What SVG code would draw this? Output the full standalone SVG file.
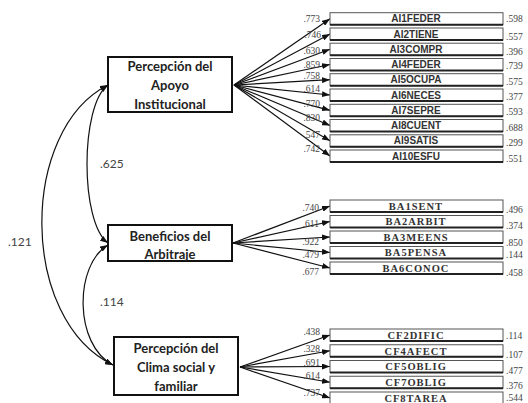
<svg xmlns="http://www.w3.org/2000/svg" width="528" height="403" viewBox="0 0 528 403">
<defs>
<marker id="ah" viewBox="0 0 8 6" refX="8" refY="3" markerWidth="8" markerHeight="6" markerUnits="userSpaceOnUse" orient="auto-start-reverse"><path d="M0,0 L8,3 L0,6 z" fill="#111"/></marker>
</defs>
<style>
.lat rect{fill:#fff;stroke:#111;stroke-width:2}
.lat text{font-family:Lato,"Liberation Sans",sans-serif;font-weight:700;font-size:13px;fill:#222;text-anchor:middle}
.ind rect{fill:#fff;stroke:#555;stroke-width:1}
.ind line{stroke:#222;stroke-width:2}
.ai{font-family:"Liberation Sans",sans-serif;font-weight:700;font-size:10px;fill:#333;text-anchor:middle}
.ser{font-family:"Liberation Serif",serif;font-weight:700;font-size:10.5px;letter-spacing:1px;fill:#333;text-anchor:middle}
.ld{font-family:"Liberation Serif",serif;font-size:9.5px;fill:#444;text-anchor:end}
.rv{font-family:"Liberation Serif",serif;font-size:9.5px;fill:#444}
.cv{font-family:Lato,"Liberation Sans",sans-serif;font-size:12px;fill:#444}
.con path,.con line{fill:none;stroke:#111;stroke-width:1.2}
</style>
<rect width="528" height="403" fill="#fff"/>
<g id="connectors" class="con">
<path d="M108,85 C80,105 80,223 108,243" marker-start="url(#ah)" marker-end="url(#ah)"/>
<path d="M108,85 C19,130 19,320 113,365" marker-start="url(#ah)" marker-end="url(#ah)"/>
<path d="M108,245 C74,265 74,345 113,365" marker-start="url(#ah)" marker-end="url(#ah)"/>
<line x1="234" y1="85" x2="330" y2="18.7" marker-end="url(#ah)"/>
<line x1="234" y1="85" x2="330" y2="34" marker-end="url(#ah)"/>
<line x1="234" y1="85" x2="330" y2="49.2" marker-end="url(#ah)"/>
<line x1="234" y1="85" x2="330" y2="64.5" marker-end="url(#ah)"/>
<line x1="234" y1="85" x2="330" y2="79.7" marker-end="url(#ah)"/>
<line x1="234" y1="85" x2="330" y2="95" marker-end="url(#ah)"/>
<line x1="234" y1="85" x2="330" y2="110.3" marker-end="url(#ah)"/>
<line x1="234" y1="85" x2="330" y2="125.5" marker-end="url(#ah)"/>
<line x1="234" y1="85" x2="330" y2="140.8" marker-end="url(#ah)"/>
<line x1="234" y1="85" x2="330" y2="156" marker-end="url(#ah)"/>
<line x1="233" y1="243" x2="330" y2="206" marker-end="url(#ah)"/>
<line x1="233" y1="243" x2="330" y2="221.5" marker-end="url(#ah)"/>
<line x1="233" y1="243" x2="330" y2="237" marker-end="url(#ah)"/>
<line x1="233" y1="243" x2="330" y2="252.5" marker-end="url(#ah)"/>
<line x1="233" y1="243" x2="330" y2="268" marker-end="url(#ah)"/>
<line x1="240" y1="367" x2="330" y2="335" marker-end="url(#ah)"/>
<line x1="240" y1="367" x2="330" y2="350.75" marker-end="url(#ah)"/>
<line x1="240" y1="367" x2="330" y2="366.5" marker-end="url(#ah)"/>
<line x1="240" y1="367" x2="330" y2="382.25" marker-end="url(#ah)"/>
<line x1="240" y1="367" x2="330" y2="398" marker-end="url(#ah)"/>
</g>
<g id="labels">
<text class="cv" x="100" y="168">.625</text>
<text class="cv" x="8" y="246">.121</text>
<text class="cv" x="100" y="306">.114</text>
<text class="ld" x="320" y="22">.773</text>
<text class="ld" x="321" y="38">.746</text>
<text class="ld" x="320" y="54">.630</text>
<text class="ld" x="320" y="68">.859</text>
<text class="ld" x="320" y="79">.758</text>
<text class="ld" x="320" y="92">.614</text>
<text class="ld" x="320" y="107">.770</text>
<text class="ld" x="320" y="121">.830</text>
<text class="ld" x="320" y="138">.547</text>
<text class="ld" x="320" y="152">.742</text>
<text class="ld" x="319" y="211">.740</text>
<text class="ld" x="319" y="227">.611</text>
<text class="ld" x="319" y="245">.922</text>
<text class="ld" x="319" y="258">.479</text>
<text class="ld" x="319" y="275">.677</text>
<text class="ld" x="320" y="335">.438</text>
<text class="ld" x="320" y="352">.328</text>
<text class="ld" x="320" y="366">.691</text>
<text class="ld" x="320" y="379">.614</text>
<text class="ld" x="320" y="396">.737</text>
<text class="rv" x="506" y="22">.598</text>
<text class="rv" x="506" y="40">.557</text>
<text class="rv" x="506" y="55">.396</text>
<text class="rv" x="506" y="69">.739</text>
<text class="rv" x="506" y="85">.575</text>
<text class="rv" x="506" y="100">.377</text>
<text class="rv" x="506" y="115">.593</text>
<text class="rv" x="506" y="131">.688</text>
<text class="rv" x="506" y="146">.299</text>
<text class="rv" x="506" y="162">.551</text>
<text class="rv" x="506" y="213">.496</text>
<text class="rv" x="506" y="229">.374</text>
<text class="rv" x="506" y="246">.850</text>
<text class="rv" x="506" y="258">.144</text>
<text class="rv" x="506" y="276">.458</text>
<text class="rv" x="506" y="339">.114</text>
<text class="rv" x="506" y="358">.107</text>
<text class="rv" x="506" y="374">.477</text>
<text class="rv" x="506" y="389">.376</text>
<text class="rv" x="506" y="401">.544</text>
</g>
<g id="lat1" class="lat"><rect x="108" y="57" width="124" height="55"/><text x="170" y="70.5">Percepción del</text><text x="170" y="90">Apoyo</text><text x="170" y="109">Institucional</text></g>
<g id="lat2" class="lat"><rect x="108" y="225" width="124" height="36"/><text x="170" y="240.5">Beneficios del</text><text x="170" y="259">Arbitraje</text></g>
<g id="lat3" class="lat"><rect x="114" y="337" width="124" height="58"/><text x="176" y="352.5">Percepción del</text><text x="176" y="372">Clima social y</text><text x="176" y="391">familiar</text></g>
<g id="AI1FEDER" class="ind"><rect x="330" y="12.7" width="173" height="12"/><line x1="330" y1="24.7" x2="503" y2="24.7"/><text class="ai" x="416" y="22.3">AI1FEDER</text></g>
<g id="AI2TIENE" class="ind"><rect x="330" y="28" width="173" height="12"/><line x1="330" y1="40" x2="503" y2="40"/><text class="ai" x="416" y="37.6">AI2TIENE</text></g>
<g id="AI3COMPR" class="ind"><rect x="330" y="43.2" width="173" height="12"/><line x1="330" y1="55.2" x2="503" y2="55.2"/><text class="ai" x="416" y="52.8">AI3COMPR</text></g>
<g id="AI4FEDER" class="ind"><rect x="330" y="58.5" width="173" height="12"/><line x1="330" y1="70.5" x2="503" y2="70.5"/><text class="ai" x="416" y="68.1">AI4FEDER</text></g>
<g id="AI5OCUPA" class="ind"><rect x="330" y="73.7" width="173" height="12"/><line x1="330" y1="85.7" x2="503" y2="85.7"/><text class="ai" x="416" y="83.3">AI5OCUPA</text></g>
<g id="AI6NECES" class="ind"><rect x="330" y="89" width="173" height="12"/><line x1="330" y1="101" x2="503" y2="101"/><text class="ai" x="416" y="98.6">AI6NECES</text></g>
<g id="AI7SEPRE" class="ind"><rect x="330" y="104.3" width="173" height="12"/><line x1="330" y1="116.3" x2="503" y2="116.3"/><text class="ai" x="416" y="113.9">AI7SEPRE</text></g>
<g id="AI8CUENT" class="ind"><rect x="330" y="119.5" width="173" height="12"/><line x1="330" y1="131.5" x2="503" y2="131.5"/><text class="ai" x="416" y="129.1">AI8CUENT</text></g>
<g id="AI9SATIS" class="ind"><rect x="330" y="134.8" width="173" height="12"/><line x1="330" y1="146.8" x2="503" y2="146.8"/><text class="ai" x="416" y="144.4">AI9SATIS</text></g>
<g id="AI10ESFU" class="ind"><rect x="330" y="150" width="173" height="12"/><line x1="330" y1="162" x2="503" y2="162"/><text class="ai" x="416" y="159.6">AI10ESFU</text></g>
<g id="BA1SENT" class="ind"><rect x="330" y="200" width="173" height="12"/><line x1="330" y1="212" x2="503" y2="212"/><text class="ser" x="416" y="209.8">BA1SENT</text></g>
<g id="BA2ARBIT" class="ind"><rect x="330" y="215.5" width="173" height="12"/><line x1="330" y1="227.5" x2="503" y2="227.5"/><text class="ser" x="416" y="225.3">BA2ARBIT</text></g>
<g id="BA3MEENS" class="ind"><rect x="330" y="231" width="173" height="12"/><line x1="330" y1="243" x2="503" y2="243"/><text class="ser" x="416" y="240.8">BA3MEENS</text></g>
<g id="BA5PENSA" class="ind"><rect x="330" y="246.5" width="173" height="12"/><line x1="330" y1="258.5" x2="503" y2="258.5"/><text class="ser" x="416" y="256.3">BA5PENSA</text></g>
<g id="BA6CONOC" class="ind"><rect x="330" y="262" width="173" height="12"/><line x1="330" y1="274" x2="503" y2="274"/><text class="ser" x="416" y="271.8">BA6CONOC</text></g>
<g id="CF2DIFIC" class="ind"><rect x="330" y="329" width="173" height="12"/><line x1="330" y1="341" x2="503" y2="341"/><text class="ser" x="416" y="338.8">CF2DIFIC</text></g>
<g id="CF4AFECT" class="ind"><rect x="330" y="344.75" width="173" height="12"/><line x1="330" y1="356.75" x2="503" y2="356.75"/><text class="ser" x="416" y="354.5">CF4AFECT</text></g>
<g id="CF5OBLIG" class="ind"><rect x="330" y="360.5" width="173" height="12"/><line x1="330" y1="372.5" x2="503" y2="372.5"/><text class="ser" x="416" y="370.3">CF5OBLIG</text></g>
<g id="CF7OBLIG" class="ind"><rect x="330" y="376.25" width="173" height="12"/><line x1="330" y1="388.25" x2="503" y2="388.25"/><text class="ser" x="416" y="386">CF7OBLIG</text></g>
<g id="CF8TAREA" class="ind"><rect x="330" y="392" width="173" height="12"/><line x1="330" y1="404" x2="503" y2="404"/><text class="ser" x="416" y="401.8">CF8TAREA</text></g>
</svg>
